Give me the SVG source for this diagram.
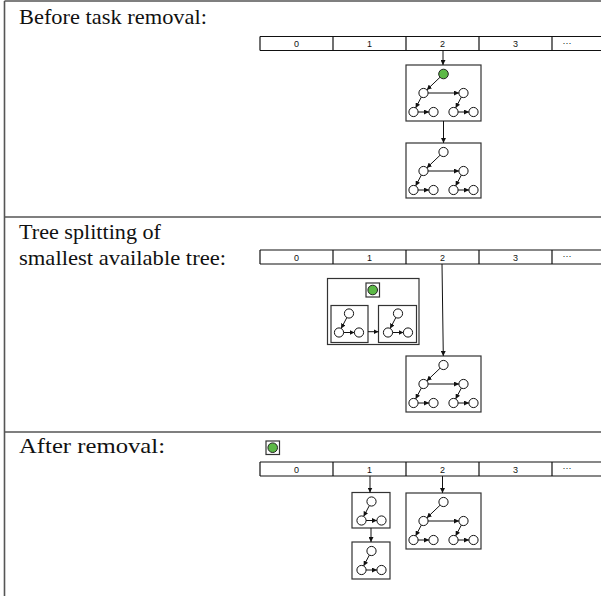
<svg xmlns="http://www.w3.org/2000/svg" xmlns:xlink="http://www.w3.org/1999/xlink" width="601" height="596" viewBox="0 0 601 596">
  <style>
    .frame { stroke: #555; stroke-width: 1.6; fill: none; }
    .title { font-family: "Liberation Serif", "Times New Roman", serif; font-size: 22px; fill: #111; }
    .cellrow { stroke: #111; stroke-width: 1.2; fill: none; }
    .idx { font-family: "Liberation Sans", Arial, sans-serif; font-size: 9px; fill: #111; text-anchor: middle; }
    .box { stroke: #333; stroke-width: 1.2; fill: #fff; }
    .node { stroke: #111; stroke-width: 1; fill: #fff; }
    .task { stroke: #222; stroke-width: 1; fill: #5cb946; }
    .edge { stroke: #111; stroke-width: 1; fill: none; marker-end: url(#tip); }
  </style>
  <defs>
    <marker id="tip" markerUnits="userSpaceOnUse" markerWidth="5" markerHeight="5" refX="5" refY="2.5" orient="auto">
      <path d="M0,0 L5,2.5 L0,5 z" fill="#111"/>
    </marker>
    <!-- seven-node tree, root at origin -->
    <g id="tree7">
      <line class="edge" x1="-15.5" y1="19" x2="15.5" y2="19"/>
      <line class="edge" x1="-22.1" y1="23" x2="-27.9" y2="34"/>
      <line class="edge" x1="17.9" y1="23" x2="12.1" y2="34"/>
      <line class="edge" x1="-25.5" y1="38" x2="-14.5" y2="38"/>
      <line class="edge" x1="14.5" y1="38" x2="25.5" y2="38"/>
      <circle class="node" cx="-20" cy="19" r="4.6"/>
      <circle class="node" cx="20" cy="19" r="4.6"/>
      <circle class="node" cx="-30" cy="38" r="4.6"/>
      <circle class="node" cx="-10" cy="38" r="4.6"/>
      <circle class="node" cx="10" cy="38" r="4.6"/>
      <circle class="node" cx="30" cy="38" r="4.6"/>
    </g>
    <g id="rootedge7">
      <line class="edge" x1="-3.3" y1="3.1" x2="-16.7" y2="15.9"/>
    </g>
    <!-- three-node tree, root at origin -->
    <g id="tree3">
      <line class="edge" x1="-2.1" y1="4" x2="-7.9" y2="15"/>
      <line class="edge" x1="-5.5" y1="19" x2="5.5" y2="19"/>
      <circle class="node" cx="0" cy="0" r="4.6"/>
      <circle class="node" cx="-10" cy="19" r="4.6"/>
      <circle class="node" cx="10" cy="19" r="4.6"/>
    </g>
    <!-- index array: cells 0..3 and an open-ended tail -->
    <g id="array">
      <line class="cellrow" x1="260" y1="0" x2="601" y2="0"/>
      <line class="cellrow" x1="260" y1="14" x2="601" y2="14"/>
      <line class="cellrow" x1="260" y1="0" x2="260" y2="14"/>
      <line class="cellrow" x1="333" y1="0" x2="333" y2="14"/>
      <line class="cellrow" x1="406" y1="0" x2="406" y2="14"/>
      <line class="cellrow" x1="479" y1="0" x2="479" y2="14"/>
      <line class="cellrow" x1="552" y1="0" x2="552" y2="14"/>
      <text class="idx" x="296.5" y="10.5">0</text>
      <text class="idx" x="369.5" y="10.5">1</text>
      <text class="idx" x="442.5" y="10.5">2</text>
      <text class="idx" x="515.5" y="10.5">3</text>
      <text class="idx" x="567" y="9" font-size="7">···</text>
    </g>
  </defs>

  <rect width="601" height="596" fill="#fff"/>

  <!-- table frame -->
  <g id="frame">
    <line class="frame" x1="4.5" y1="1" x2="601" y2="1"/>
    <line class="frame" x1="4.5" y1="1" x2="4.5" y2="596"/>
    <line class="frame" x1="4.5" y1="217" x2="601" y2="217"/>
    <line class="frame" x1="4.5" y1="432" x2="601" y2="432"/>
  </g>

  <!-- row captions -->
  <text class="title" x="19" y="23.5" textLength="188" lengthAdjust="spacingAndGlyphs">Before task removal:</text>
  <text class="title" x="19" y="239" textLength="142" lengthAdjust="spacingAndGlyphs">Tree splitting of</text>
  <text class="title" x="19" y="265" textLength="207" lengthAdjust="spacingAndGlyphs">smallest available tree:</text>
  <text class="title" x="19" y="453" textLength="146" lengthAdjust="spacingAndGlyphs">After removal:</text>

  <!-- arrays -->
  <use id="array-before" xlink:href="#array" transform="translate(0,36.5)"/>
  <use id="array-split" xlink:href="#array" transform="translate(0,250)"/>
  <use id="array-after" xlink:href="#array" transform="translate(0,462)"/>

  <!-- row 1 nodes -->
  <g id="b1-tree">
    <rect class="box" x="406" y="65" width="75" height="56"/>
    <g transform="translate(443.5,74)">
      <use xlink:href="#rootedge7"/>
      <use xlink:href="#tree7"/>
      <circle class="task" cx="0" cy="0" r="4.8"/>
    </g>
  </g>
  <g id="b2-tree">
    <rect class="box" x="406" y="143" width="75" height="55"/>
    <g transform="translate(443.5,152)">
      <use xlink:href="#rootedge7"/>
      <use xlink:href="#tree7"/>
      <circle class="node" cx="0" cy="0" r="4.6"/>
    </g>
  </g>

  <!-- row 2 nodes -->
  <g id="s-split">
    <rect class="box" x="327.5" y="278.5" width="91.5" height="66"/>
    <rect class="box" x="366" y="283" width="13.5" height="14"/>
    <circle class="task" cx="372.7" cy="290" r="4.8"/>
  </g>
  <g id="s-left">
    <rect class="box" x="331" y="305.5" width="37" height="37"/>
    <use xlink:href="#tree3" transform="translate(349,313.5)"/>
  </g>
  <g id="s-right">
    <rect class="box" x="378.5" y="305.5" width="38" height="37"/>
    <use xlink:href="#tree3" transform="translate(398,313.5)"/>
  </g>
  <g id="s-tree">
    <rect class="box" x="406" y="356" width="75" height="56"/>
    <g transform="translate(443.5,365)">
      <use xlink:href="#rootedge7"/>
      <use xlink:href="#tree7"/>
      <circle class="node" cx="0" cy="0" r="4.6"/>
    </g>
  </g>

  <!-- row 3 nodes -->
  <g id="a-task">
    <rect class="box" x="266" y="441" width="13.5" height="13.5"/>
    <circle class="task" cx="272.7" cy="447.7" r="4.8"/>
  </g>
  <g id="a-small1">
    <rect class="box" x="352" y="492.5" width="38" height="35.5"/>
    <use xlink:href="#tree3" transform="translate(371.5,501.5)"/>
  </g>
  <g id="a-small2">
    <rect class="box" x="352" y="542" width="38" height="37"/>
    <use xlink:href="#tree3" transform="translate(371.5,551)"/>
  </g>
  <g id="a-tree">
    <rect class="box" x="406" y="493" width="75" height="56"/>
    <g transform="translate(443.5,502)">
      <use xlink:href="#rootedge7"/>
      <use xlink:href="#tree7"/>
      <circle class="node" cx="0" cy="0" r="4.6"/>
    </g>
  </g>

  <!-- connectors -->
  <g id="connectors">
    <line class="edge" x1="443" y1="50.5" x2="443" y2="65"/>
    <line class="edge" x1="443.5" y1="121" x2="443.5" y2="143"/>
    <line class="edge" x1="368" y1="331.7" x2="378.5" y2="331.7"/>
    <line class="edge" x1="442" y1="264" x2="443.3" y2="356"/>
    <line class="edge" x1="370" y1="476" x2="370" y2="492.5"/>
    <line class="edge" x1="442.5" y1="476" x2="442.5" y2="493"/>
    <line class="edge" x1="371" y1="528" x2="371" y2="542"/>
  </g>
</svg>
